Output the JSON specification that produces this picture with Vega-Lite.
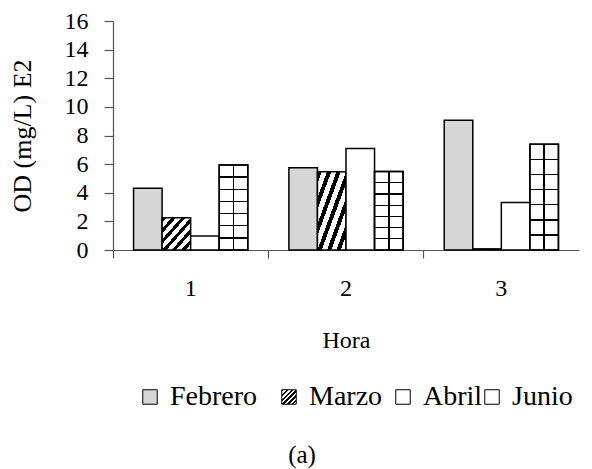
{
  "$schema": "https://vega.github.io/schema/vega-lite/v6.json",
  "width": 466,
  "height": 229,
  "autosize": "none",
  "padding": {"left": 113, "top": 21, "right": 13, "bottom": 219},
  "background": "white",
  "config": {
    "font": "Liberation Serif",
    "view": {"stroke": null},
    "axis": {"labelColor": "black", "titleColor": "black", "titleFontWeight": "normal", "labelFont": "Liberation Serif", "titleFont": "Liberation Serif", "domainColor": "#555", "tickColor": "#555", "domainWidth": 1.2, "tickWidth": 1.2, "grid": false},
    "axisX": {"labelAngle": 0, "bandPosition": 0, "tickSize": 8, "labelFontSize": 24, "labelPadding": 18, "titleFontSize": 24, "titlePadding": 28},
    "axisY": {"tickCount": 8, "labelOverlap": false, "tickSize": 9, "labelFontSize": 24, "labelPadding": 16, "titleFontSize": 26, "titleX": -91, "titleY": 114.5, "titleAngle": -90, "titleAlign": "center", "titleBaseline": "middle"},
    "legend": {"orient": "none", "direction": "horizontal", "legendY": 362, "title": null, "symbolType": "square", "symbolSize": 210, "symbolStrokeWidth": 1, "labelFontSize": 28, "labelFont": "Liberation Serif", "labelColor": "black", "labelOffset": 6, "padding": 0}
  },
  "title": {"text": "(a)", "orient": "bottom", "anchor": "middle", "frame": "group", "fontSize": 25, "fontWeight": "normal", "font": "Liberation Serif", "color": "black", "dx": -44, "offset": 32},
  "data": {
    "values": [
      {"Hora": "1", "Mes": "Febrero", "OD": 4.32},
      {"Hora": "1", "Mes": "Marzo", "OD": 2.25},
      {"Hora": "1", "Mes": "Abril", "OD": 0.98},
      {"Hora": "1", "Mes": "Junio", "OD": 5.94},
      {"Hora": "2", "Mes": "Febrero", "OD": 5.75},
      {"Hora": "2", "Mes": "Marzo", "OD": 5.47},
      {"Hora": "2", "Mes": "Abril", "OD": 7.09},
      {"Hora": "2", "Mes": "Junio", "OD": 5.49},
      {"Hora": "3", "Mes": "Febrero", "OD": 9.07},
      {"Hora": "3", "Mes": "Marzo", "OD": 0.08},
      {"Hora": "3", "Mes": "Abril", "OD": 3.32},
      {"Hora": "3", "Mes": "Junio", "OD": 7.39}
    ]
  },
  "resolve": {"scale": {"stroke": "independent"}, "legend": {"stroke": "independent"}},
  "layer": [
    {
      "transform": [{"filter": "datum.Mes === 'Febrero'"}],
      "mark": {"type": "bar", "strokeWidth": 1.5, "fill": "#d6d6d6"},
      "encoding": {
        "x": {"field": "Hora", "type": "nominal", "title": "Hora", "scale": {"paddingInner": 0, "paddingOuter": 0}},
        "xOffset": {"field": "Mes", "type": "nominal", "scale": {"domain": ["Febrero", "Marzo", "Abril", "Junio"], "paddingInner": 0, "paddingOuter": 0.72}},
        "y": {"field": "OD", "type": "quantitative", "title": "OD (mg/L) E2", "scale": {"domain": [0, 16], "nice": false}},
        "stroke": {"field": "Mes", "type": "nominal", "scale": {"domain": ["Febrero"], "range": ["black"]}, "legend": {"legendX": 23}}
      }
    },
    {
      "transform": [{"filter": "datum.Mes === 'Marzo'"}],
      "mark": {
        "type": "bar", "strokeWidth": 1.5,
        "fill": {
          "gradient": "linear", "x1": 0, "y1": 0, "x2": 1, "y2": 1,
          "stops": [
            {"offset": 0, "color": "black"}, {"offset": 0.075, "color": "black"}, {"offset": 0.075, "color": "white"}, {"offset": 0.1667, "color": "white"},
            {"offset": 0.1667, "color": "black"}, {"offset": 0.2417, "color": "black"}, {"offset": 0.2417, "color": "white"}, {"offset": 0.3333, "color": "white"},
            {"offset": 0.3333, "color": "black"}, {"offset": 0.4083, "color": "black"}, {"offset": 0.4083, "color": "white"}, {"offset": 0.5, "color": "white"},
            {"offset": 0.5, "color": "black"}, {"offset": 0.575, "color": "black"}, {"offset": 0.575, "color": "white"}, {"offset": 0.6667, "color": "white"},
            {"offset": 0.6667, "color": "black"}, {"offset": 0.7417, "color": "black"}, {"offset": 0.7417, "color": "white"}, {"offset": 0.8333, "color": "white"},
            {"offset": 0.8333, "color": "black"}, {"offset": 0.9083, "color": "black"}, {"offset": 0.9083, "color": "white"}, {"offset": 1, "color": "white"}
          ]
        }
      },
      "encoding": {
        "x": {"field": "Hora", "type": "nominal", "title": "Hora"},
        "xOffset": {"field": "Mes", "type": "nominal"},
        "y": {"field": "OD", "type": "quantitative", "title": "OD (mg/L) E2"},
        "stroke": {"field": "Mes", "type": "nominal", "scale": {"domain": ["Marzo"], "range": ["black"]}, "legend": {"legendX": 162}}
      }
    },
    {
      "transform": [{"filter": "datum.Mes === 'Abril'"}],
      "mark": {"type": "bar", "strokeWidth": 1.5, "fill": "white"},
      "encoding": {
        "x": {"field": "Hora", "type": "nominal", "title": "Hora"},
        "xOffset": {"field": "Mes", "type": "nominal"},
        "y": {"field": "OD", "type": "quantitative", "title": "OD (mg/L) E2"},
        "stroke": {"field": "Mes", "type": "nominal", "scale": {"domain": ["Abril"], "range": ["black"]}, "legend": {"legendX": 276}}
      }
    },
    {
      "transform": [{"filter": "datum.Mes === 'Junio'"}],
      "mark": {
        "type": "bar", "strokeWidth": 1.5,
        "fill": {
          "gradient": "linear", "x1": 0, "y1": 0, "x2": 0, "y2": 1,
          "stops": [
            {"offset": 0, "color": "white"},
            {"offset": 0.135, "color": "white"}, {"offset": 0.135, "color": "black"}, {"offset": 0.151, "color": "black"}, {"offset": 0.151, "color": "white"},
            {"offset": 0.278, "color": "white"}, {"offset": 0.278, "color": "black"}, {"offset": 0.294, "color": "black"}, {"offset": 0.294, "color": "white"},
            {"offset": 0.421, "color": "white"}, {"offset": 0.421, "color": "black"}, {"offset": 0.437, "color": "black"}, {"offset": 0.437, "color": "white"},
            {"offset": 0.563, "color": "white"}, {"offset": 0.563, "color": "black"}, {"offset": 0.579, "color": "black"}, {"offset": 0.579, "color": "white"},
            {"offset": 0.706, "color": "white"}, {"offset": 0.706, "color": "black"}, {"offset": 0.722, "color": "black"}, {"offset": 0.722, "color": "white"},
            {"offset": 0.849, "color": "white"}, {"offset": 0.849, "color": "black"}, {"offset": 0.865, "color": "black"}, {"offset": 0.865, "color": "white"},
            {"offset": 1, "color": "white"}
          ]
        }
      },
      "encoding": {
        "x": {"field": "Hora", "type": "nominal", "title": "Hora"},
        "xOffset": {"field": "Mes", "type": "nominal"},
        "y": {"field": "OD", "type": "quantitative", "title": "OD (mg/L) E2"},
        "stroke": {"field": "Mes", "type": "nominal", "scale": {"domain": ["Junio"], "range": ["black"]}, "legend": {"legendX": 365}}
      }
    },
    {
      "transform": [{"filter": "datum.Mes === 'Junio'"}],
      "mark": {
        "type": "bar", "stroke": "black", "strokeWidth": 1.5,
        "fill": {
          "gradient": "linear", "x1": 0, "y1": 0, "x2": 1, "y2": 0,
          "stops": [
            {"offset": 0, "color": "rgba(0,0,0,0)"}, {"offset": 0.475, "color": "rgba(0,0,0,0)"},
            {"offset": 0.475, "color": "black"}, {"offset": 0.525, "color": "black"},
            {"offset": 0.525, "color": "rgba(0,0,0,0)"}, {"offset": 1, "color": "rgba(0,0,0,0)"}
          ]
        }
      },
      "encoding": {
        "x": {"field": "Hora", "type": "nominal", "title": "Hora"},
        "xOffset": {"field": "Mes", "type": "nominal"},
        "y": {"field": "OD", "type": "quantitative", "title": "OD (mg/L) E2"}
      }
    }
  ]
}
